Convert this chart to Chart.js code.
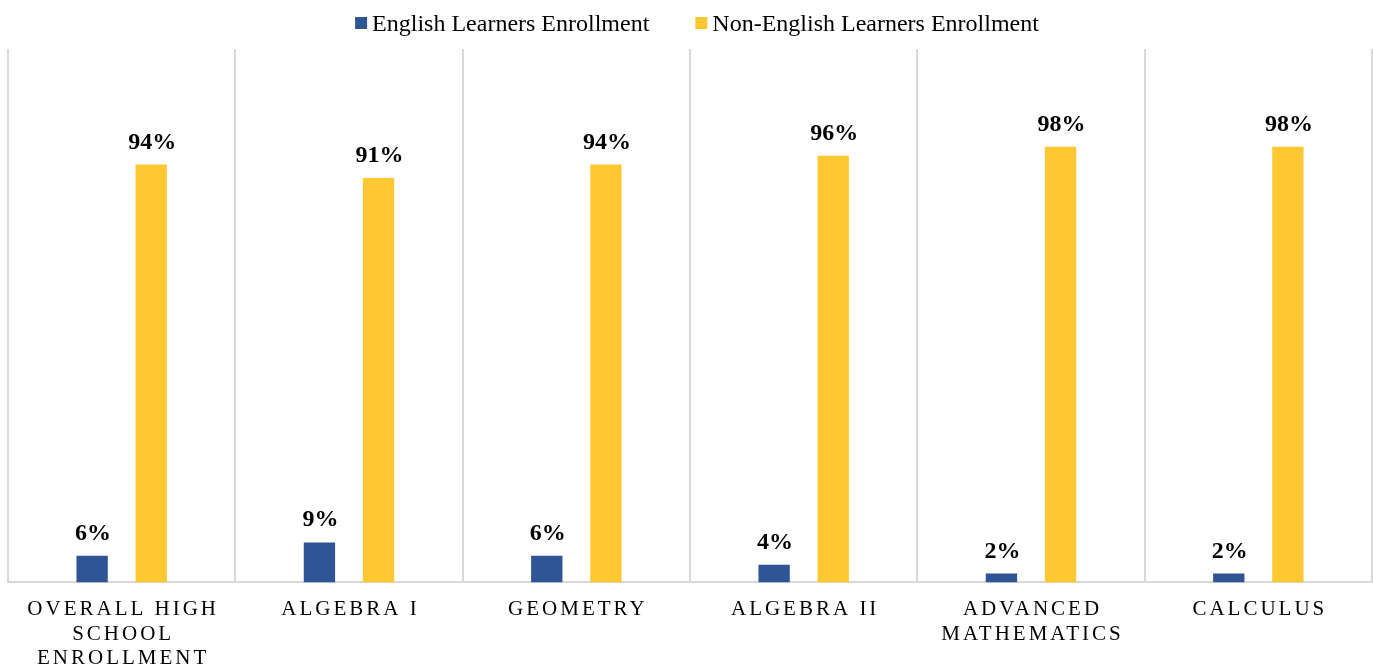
<!DOCTYPE html>
<html>
<head>
<meta charset="utf-8">
<script src="https://cdn.jsdelivr.net/npm/chart.js@4/dist/chart.umd.min.js"></script>
<style>
  html, body { margin: 0; padding: 0; background: #ffffff; }
  canvas { display: block; }
</style>
</head>
<body>
<canvas id="c" width="1373" height="666"></canvas>
<script>
const categories = [
  ['OVERALL HIGH', 'SCHOOL', 'ENROLLMENT'],
  'ALGEBRA I',
  'GEOMETRY',
  'ALGEBRA II',
  ['ADVANCED', 'MATHEMATICS'],
  'CALCULUS'
];
const englishLearners = [6, 9, 6, 4, 2, 2];
const nonEnglishLearners = [94, 91, 94, 96, 98, 98];
const seriesNames = ['English Learners Enrollment', 'Non-English Learners Enrollment'];
const seriesColors = ['#2F5597', '#FFC832'];

const SERIF = '"Liberation Serif", "Times New Roman", serif';
const LETTER_SPACING = 3.0;

class SpacedCategoryScale extends Chart.CategoryScale {
  drawLabels(chartArea) {
    const ctx = this.ctx;
    ctx.save();
    ctx.letterSpacing = LETTER_SPACING + 'px';
    ctx.translate(LETTER_SPACING / 2, 0);
    super.drawLabels(chartArea);
    ctx.restore();
  }
}
SpacedCategoryScale.id = 'spacedCategory';
SpacedCategoryScale.defaults = Chart.CategoryScale.defaults;
Chart.register(SpacedCategoryScale);

const valueLabels = {
  id: 'valueLabels',
  afterDatasetsDraw(chart) {
    const ctx = chart.ctx;
    ctx.save();
    ctx.font = 'bold 24px ' + SERIF;
    ctx.fillStyle = '#000000';
    ctx.textAlign = 'center';
    ctx.textBaseline = 'alphabetic';
    chart.data.datasets.forEach((ds, di) => {
      const meta = chart.getDatasetMeta(di);
      meta.data.forEach((bar, i) => {
        ctx.fillText(ds.data[i] + '%', bar.x + 1, bar.y - 16);
      });
    });
    ctx.restore();
  }
};

const topLegend = {
  id: 'topLegend',
  afterDraw(chart) {
    const ctx = chart.ctx;
    ctx.save();
    ctx.font = '24px ' + SERIF;
    ctx.textBaseline = 'alphabetic';
    ctx.textAlign = 'left';
    const box = 12, gapText = 5, gapItem = 46;
    const items = chart.data.datasets.map(ds => ({ text: ds.label, color: ds.backgroundColor, w: ctx.measureText(ds.label).width }));
    let total = 0;
    items.forEach((it, i) => { total += box + gapText + it.w + (i < items.length - 1 ? gapItem : 0); });
    const ca = chart.chartArea;
    let x = (ca.left + ca.right) / 2 + 7 - total / 2;
    items.forEach(it => {
      ctx.fillStyle = it.color;
      ctx.fillRect(x, 17, box, box);
      ctx.fillStyle = '#000000';
      ctx.fillText(it.text, x + box + gapText, 31);
      x += box + gapText + it.w + gapItem;
    });
    ctx.restore();
  }
};

new Chart(document.getElementById('c'), {
  type: 'bar',
  data: {
    labels: categories,
    datasets: [
      { label: seriesNames[0], data: englishLearners, backgroundColor: seriesColors[0], categoryPercentage: 0.52, barPercentage: 0.53 },
      { label: seriesNames[1], data: nonEnglishLearners, backgroundColor: seriesColors[1], categoryPercentage: 0.52, barPercentage: 0.53 }
    ]
  },
  options: {
    responsive: false,
    animation: false,
    layout: { padding: { top: 49, left: 8, right: 1, bottom: -20 } },
    plugins: {
      legend: { display: false },
      tooltip: { enabled: false }
    },
    scales: {
      x: {
        type: 'spacedCategory',
        grid: { display: true, offset: true, color: '#D9D9D9', lineWidth: 2, drawTicks: false },
        border: { display: true, color: '#D9D9D9', width: 2 },
        ticks: {
          color: '#000000',
          font: { family: SERIF, size: 21, lineHeight: 1.167 },
          padding: 15,
          maxRotation: 0,
          autoSkip: false
        }
      },
      y: {
        display: false,
        min: 0,
        max: 120
      }
    }
  },
  plugins: [valueLabels, topLegend]
});
</script>
</body>
</html>
